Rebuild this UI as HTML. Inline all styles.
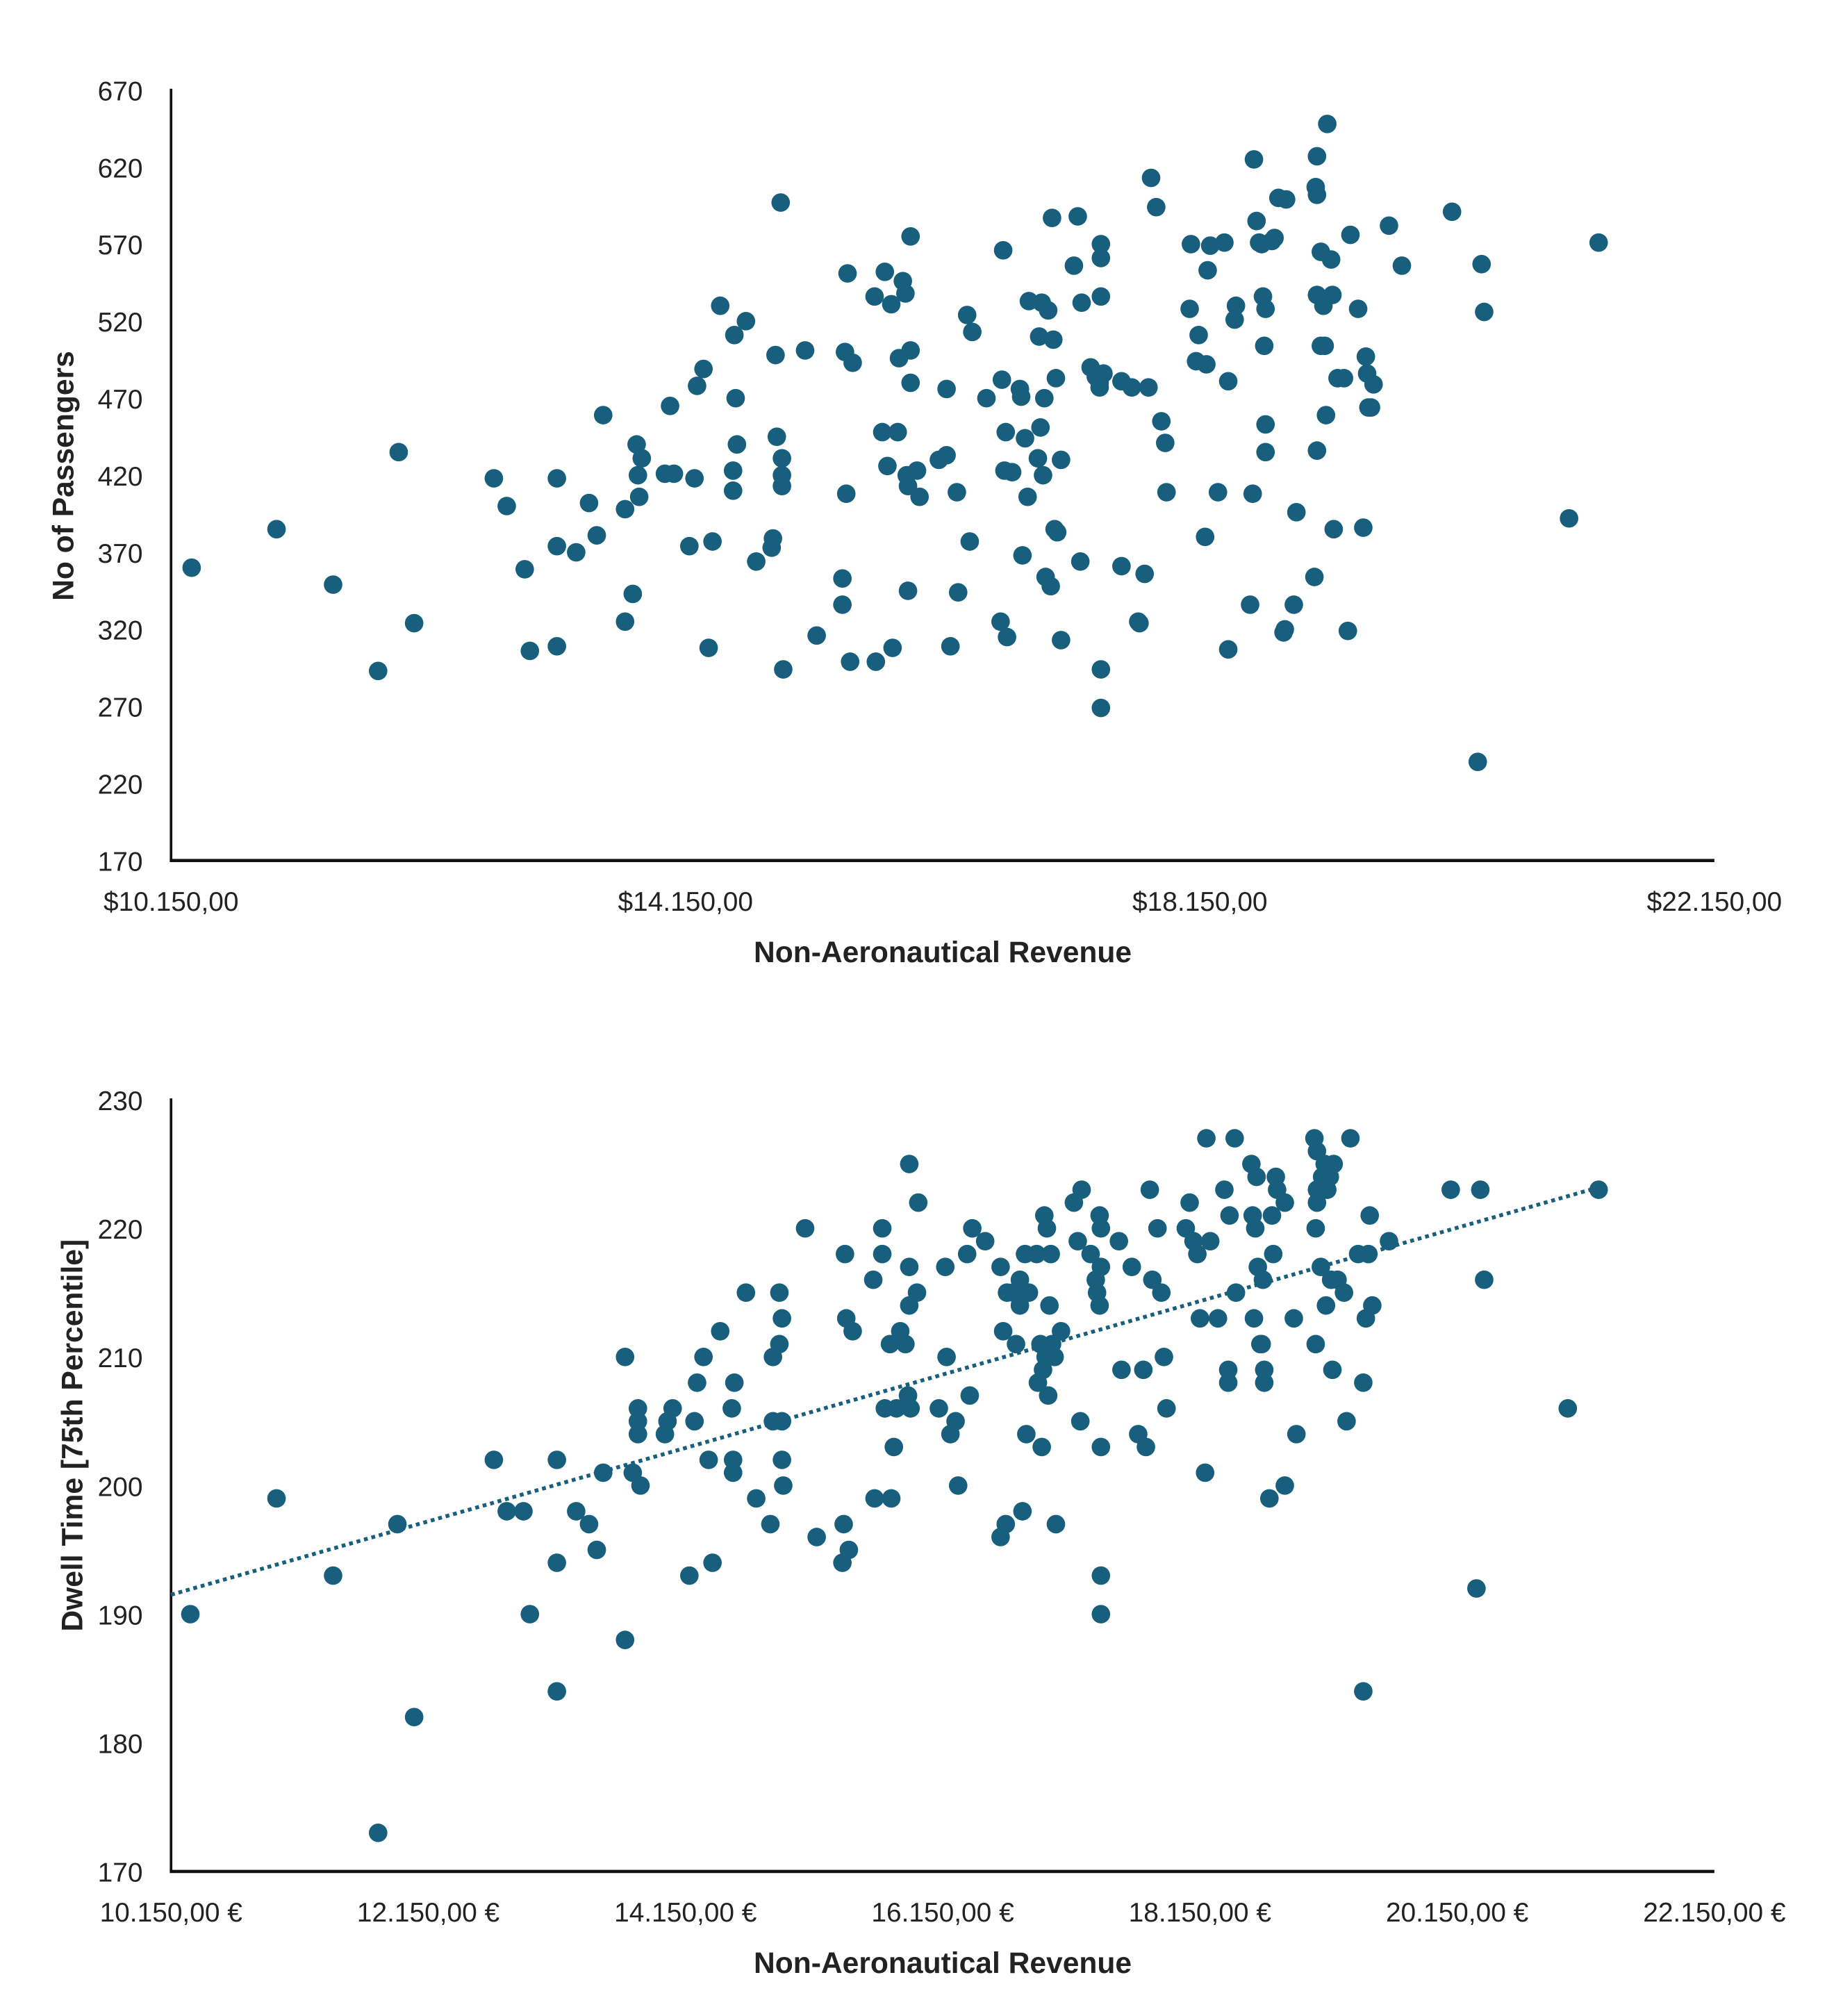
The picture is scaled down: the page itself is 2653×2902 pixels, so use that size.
<!DOCTYPE html>
<html><head><meta charset="utf-8"><style>
html,body{margin:0;padding:0;background:#fff;}
svg{display:block;}
text{font-family:"Liberation Sans",sans-serif;fill:#222;}
</style></head>
<body>
<svg id="chart" width="2653" height="2902" viewBox="0 0 1433 1567.4" preserveAspectRatio="none" xmlns="http://www.w3.org/2000/svg">
<g id="top"></g>
<g id="bot"></g>
</svg>
<script>
const topX = [10310,10970,11410,11760,11920,12040,12660,12760,12900,12940,13150,13150,13150,13300,13400,13460,13510,13680,13680,13740,13770,13780,13810,13790,13990,14030,14060,14180,14220,14240,14290,14330,14360,14420,14530,14540,14550,14520,14520,14620,14700,14820,14830,14850,14860,14890,14900,14900,14900,14910,15080,15170,15370,15370,15390,15400,15410,15430,15450,15620,15630,15680,15700,15720,15750,15760,15800,15810,15840,15860,15870,15880,15900,15900,15900,15880,15950,15970,16120,16180,16180,16210,16260,16270,16340,16360,16380,16490,16600,16610,16620,16630,16640,16650,16690,16750,16760,16770,16790,16810,16820,16890,16900,16910,16920,16930,16940,16950,16970,16990,17000,17010,17020,17030,17040,17070,17070,17170,17200,17220,17230,17300,17340,17370,17370,17380,17380,17380,17380,17380,17400,17540,17540,17620,17670,17680,17720,17750,17770,17810,17850,17880,17890,18080,18070,18120,18140,18190,18200,18210,18230,18290,18340,18370,18370,18420,18430,18540,18570,18560,18590,18610,18630,18640,18650,18660,18660,18660,18710,18730,18760,18800,18810,18820,18880,18900,19040,19050,19060,19060,19060,19060,19090,19090,19110,19120,19130,19140,19170,19180,19190,19220,19270,19300,19320,19380,19420,19440,19450,19460,19480,19500,19620,19720,20110,20310,20340,20360,21020,21250];
const topY = [360,385,349,293,435,324,418,400,359,306,418,374,309,370,402,381,459,325,398,343,440,420,431,406,421,465,421,374,418,478,489,308,377,530,511,470,440,423,410,520,364,373,379,498,445,597,431,420,413,294,501,316,353,336,500,408,551,299,493,536,299,448,552,426,531,308,448,496,546,538,420,345,480,501,575,413,423,406,430,433,476,309,409,344,524,377,513,470,325,482,566,423,448,315,422,476,471,368,444,406,533,431,510,451,532,420,470,354,527,348,587,508,385,483,383,313,430,556,588,364,532,490,484,477,480,536,570,561,294,269,486,481,361,477,325,324,356,477,613,594,455,441,409,570,528,494,511,380,492,553,569,409,571,307,481,521,530,336,625,408,585,571,570,536,504,453,435,528,572,574,600,318,320,599,336,396,354,607,627,602,537,436,565,504,530,504,459,648,560,537,385,483,483,319,576,528,386,497,486,464,464,479,582,556,591,234,557,526,392,571];
const botX = [10300,10970,11410,11760,11910,12040,12660,12760,12890,12940,13150,13150,13150,13300,13400,13460,13510,13680,13680,13740,13780,13780,13780,13800,13990,14010,14050,14180,14220,14240,14290,14330,14360,14420,14520,14520,14530,14510,14620,14700,14810,14830,14830,14880,14880,14900,14900,14900,14910,15080,15170,15370,15380,15390,15400,15420,15450,15610,15620,15680,15680,15700,15740,15750,15770,15790,15820,15860,15880,15890,15890,15890,15900,15950,15960,16120,16170,16180,16210,16250,16270,16340,16360,16380,16480,16600,16600,16620,16640,16650,16700,16720,16750,16750,16770,16790,16800,16820,16880,16890,16910,16920,16930,16940,16950,16960,16970,16980,16990,17000,17020,17030,17070,17170,17200,17220,17230,17300,17340,17350,17370,17370,17380,17380,17380,17380,17380,17520,17540,17620,17670,17710,17730,17760,17780,17820,17850,17870,17890,18040,18070,18100,18130,18150,18190,18200,18230,18290,18340,18370,18370,18380,18420,18430,18550,18560,18570,18580,18590,18600,18620,18630,18640,18650,18650,18690,18710,18720,18740,18750,18810,18810,18880,18900,19040,19050,19050,19060,19060,19060,19090,19100,19120,19130,19140,19160,19170,19180,19190,19220,19270,19290,19320,19380,19420,19420,19440,19460,19470,19490,19620,20100,20300,20330,20360,21010,21250];
const botY = [190,199,193,173,197,182,202,198,198,190,202,194,184,198,197,195,201,210,188,201,206,205,204,200,204,205,206,193,205,208,210,202,194,212,202,201,208,206,215,199,197,210,205,215,211,213,205,202,200,220,196,194,197,218,213,195,212,216,199,218,220,206,211,199,203,206,212,211,207,225,214,217,206,215,222,206,217,210,204,205,200,218,207,220,219,217,196,212,197,215,215,211,216,214,198,218,204,215,218,208,211,203,209,221,210,220,207,214,218,211,210,197,212,222,219,205,223,218,216,215,221,214,220,217,203,193,190,219,209,217,204,209,203,223,216,220,215,210,206,220,222,219,218,213,201,227,219,213,223,209,208,221,227,215,225,221,213,220,224,217,211,211,216,209,208,199,221,218,224,223,222,200,213,204,227,220,211,222,223,226,217,224,225,214,223,224,216,209,225,216,215,205,227,218,208,184,213,218,221,214,219,223,192,223,216,206,223];
const topYTicks = [170,220,270,320,370,420,470,520,570,620,670];
const topXTicks = [10150,14150,18150,22150];
const topXLabels = ["$10.150,00","$14.150,00","$18.150,00","$22.150,00"];
const botYTicks = [170,180,190,200,210,220,230];
const botXTicks = [10150,12150,14150,16150,18150,20150,22150];
const botXLabels = ["10.150,00 €","12.150,00 €","14.150,00 €","16.150,00 €","18.150,00 €","20.150,00 €","22.150,00 €"];

const NS="http://www.w3.org/2000/svg";
const COLOR="#175f7d";
function mk(parent,tag,attrs,txt){const e=document.createElementNS(NS,tag);for(const k in attrs)e.setAttribute(k,attrs[k]);if(txt!==undefined)e.textContent=txt;parent.appendChild(e);return e;}

function drawChart(g,o){
  const L=133,R=1333;
  const sx=v=>L+(v-o.xmin)/(o.xmax-o.xmin)*(R-L);
  const sy=v=>o.bottom-(v-o.ymin)/(o.ymax-o.ymin)*(o.bottom-o.top);
  o.yTicks.forEach(t=>{
    const e=mk(g,'text',{x:111,y:sy(t)+8,'text-anchor':'end','font-size':21},String(t));
    
    
  });
  o.xTicks.forEach((t,i)=>{
    const e=mk(g,'text',{x:sx(t),y:o.bottom+39,'text-anchor':'middle','font-size':21},o.xLabels[i]);
    
    
  });
  const ya=mk(g,'line',{x1:L,y1:o.top-1,x2:L,y2:o.bottom,stroke:'#111','stroke-width':2});
  
  
  const xa=mk(g,'line',{x1:L-1,y1:o.bottom,x2:R,y2:o.bottom,stroke:'#111','stroke-width':2.5});
  
  
  if(o.trend){
    const n=o.xs.length;let mx=0,my=0;
    for(let i=0;i<n;i++){mx+=o.xs[i];my+=o.ys[i];}mx/=n;my/=n;
    let sxy=0,sxx=0;for(let i=0;i<n;i++){sxy+=(o.xs[i]-mx)*(o.ys[i]-my);sxx+=(o.xs[i]-mx)**2;}
    const b=sxy/sxx,a=my-b*mx;
    const x0=Math.min(...o.xs)-150,x1=Math.max(...o.xs);
    const tl=mk(g,'line',{x1:sx(x0),y1:sy(a+b*x0),x2:sx(x1),y2:sy(a+b*x1),stroke:COLOR,'stroke-width':3,'stroke-dasharray':'3 3'});
    
    
  }
  o.xs.forEach((x,i)=>{
    const c=mk(g,'circle',{cx:sx(x),cy:sy(o.ys[i]),r:7.2,fill:COLOR});
    
    
  });
  const xt=mk(g,'text',{x:733,y:o.bottom+79,'text-anchor':'middle','font-size':23,'font-weight':'bold'},o.xTitle);
  
  
  const yt=mk(g,'text',{x:0,y:0,'text-anchor':'middle','font-size':23,'font-weight':'bold',transform:`translate(${o.ytx},${o.yty}) rotate(-90)`},o.yTitle);
  
  
}
drawChart(document.getElementById('top'),{xs:topX,ys:topY,xmin:10150,xmax:22150,ymin:170,ymax:670,top:70,bottom:669,yTicks:topYTicks,xTicks:topXTicks,xLabels:topXLabels,xTitle:"Non-Aeronautical Revenue",yTitle:"No of Passengers",ytx:57,yty:370,trend:false});
drawChart(document.getElementById('bot'),{xs:botX,ys:botY,xmin:10150,xmax:22150,ymin:170,ymax:230,top:855,bottom:1455,yTicks:botYTicks,xTicks:botXTicks,xLabels:botXLabels,xTitle:"Non-Aeronautical Revenue",yTitle:"Dwell Time [75th Percentile]",ytx:64,yty:1116,trend:true});
</script>
</body></html>
